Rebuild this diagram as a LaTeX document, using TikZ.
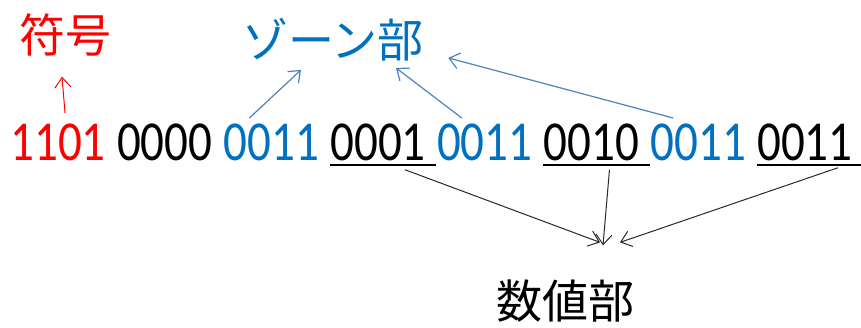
\documentclass[tikz,border=0pt]{standalone}
\usepackage{fontspec}
\setmainfont{Carlito}
\newfontfamily\jpfont{Noto Sans CJK JP}
\usetikzlibrary{positioning, arrows.meta}
\definecolor{signred}{RGB}{255,0,0}
\definecolor{zoneblue}{RGB}{0,112,192}
\definecolor{arrowblue}{RGB}{79,129,189}
\definecolor{numgray}{RGB}{40,40,40}
\newcommand{\tallnum}[1]{\scalebox{1}[1.2]{#1}}

\begin{document}
\begin{tikzpicture}[x=0.5pt, y=-0.5pt, node distance=5.3pt,
  >={Straight Barb[length=5pt, width=8pt]},
  digits/.style={font=\fontsize{23.5}{28}\selectfont, inner sep=0pt},
  jplabel/.style={font=\jpfont\fontsize{23}{27}\selectfont, inner sep=0pt}]
  \useasboundingbox (0,0) rectangle (861,327);
  \node[jplabel, text=signred] (sign) at (65,35) {符号};
  \node[jplabel, text=zoneblue] (zone) at (333,40) {ゾーン部};
  \node[jplabel] (value) at (565,301) {数値部};
  \node[digits, text=signred, anchor=base west] (g1) at (10,160) {\tallnum{1101}};
  \node[digits, base right=of g1] (g2) {\tallnum{0000}};
  \node[digits, text=zoneblue, base right=of g2] (g3) {\tallnum{0011}};
  \node[digits, base right=of g3] (g4) {\tallnum{0001}};
  \node[digits, text=zoneblue, base right=of g4] (g5) {\tallnum{0011}};
  \node[digits, base right=of g5] (g6) {\tallnum{0010}};
  \node[digits, text=zoneblue, base right=of g6] (g7) {\tallnum{0011}};
  \node[digits, base right=of g7] (g8) {\tallnum{0011}};
  % underlines
  \foreach \g in {g4, g6, g8}
    \draw[line width=0.6pt] ([yshift=-2.5pt]\g.base west) -- ([xshift=5pt, yshift=-2.5pt]\g.base east);
  \draw[->, signred, line width=0.5pt] ([xshift=3.5pt, yshift=5pt]g1.north) -- ([xshift=-1.5pt, yshift=-10pt]sign.south);
  \draw[->, arrowblue, line width=0.6pt] ([xshift=-11pt, yshift=2.5pt]g3.north) -- ([xshift=-16pt, yshift=-4pt]zone.south);
  \draw[->, arrowblue, line width=0.6pt] ([xshift=-11.5pt, yshift=2.5pt]g5.north) -- ([xshift=31.5pt, yshift=-3pt]zone.south);
  \draw[->, arrowblue, line width=0.6pt] ([xshift=-12.5pt, yshift=2.5pt]g7.north) -- ([xshift=12pt, yshift=2pt]zone.south east);
  \draw[->, numgray, line width=0.5pt] ([xshift=13.5pt, yshift=-4.5pt]g4.south) -- ([xshift=17.5pt, yshift=18.5pt]value.north);
  \draw[->, numgray, line width=0.5pt] ([xshift=9pt, yshift=-4.5pt]g6.south) -- ([xshift=19pt, yshift=17pt]value.north);
  \draw[->, numgray, line width=0.5pt] ([xshift=16.5pt, yshift=-3.5pt]g8.south) -- ([xshift=27.5pt, yshift=18.5pt]value.north);
\end{tikzpicture}
\end{document}
